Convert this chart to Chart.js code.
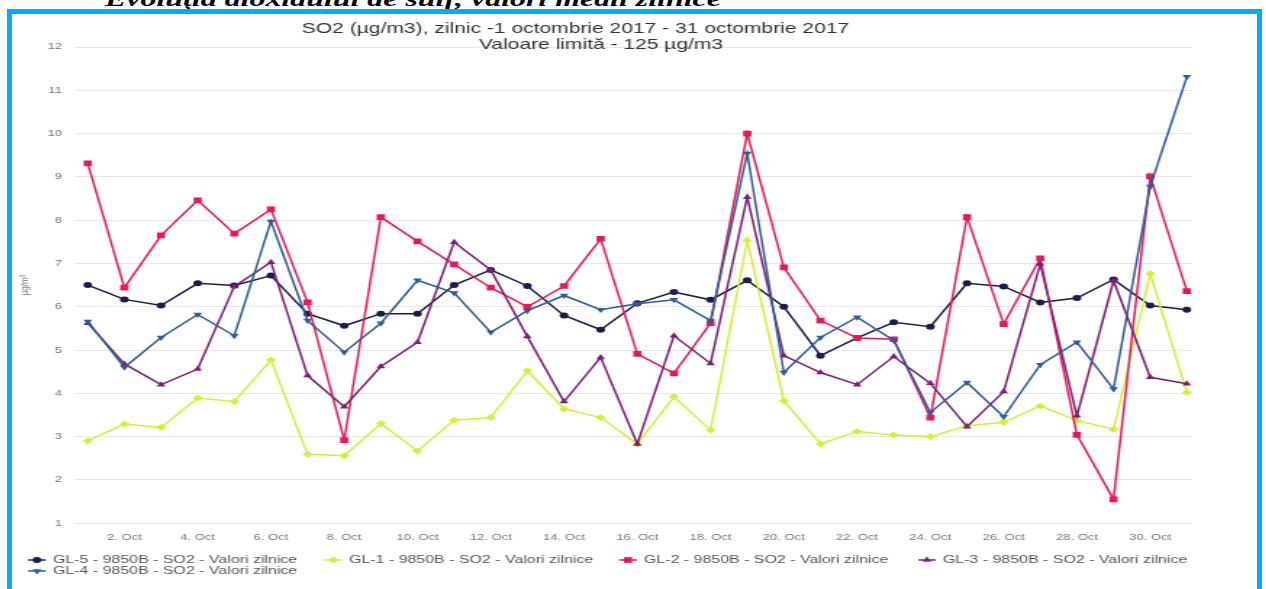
<!DOCTYPE html>
<html>
<head>
<meta charset="utf-8">
<script src="https://cdn.jsdelivr.net/npm/chart.js@4.4.1/dist/chart.umd.min.js"></script>
<style>
  html, body { margin: 0; padding: 0; background: #fff; }
  body { width: 1266px; height: 589px; overflow: hidden; position: relative; }
  #heading { position: absolute; left: 105px; top: -14px; line-height: 22px; font: bold italic 22px "Liberation Serif"; white-space: nowrap; transform: scaleX(1.45); transform-origin: 0 0; color: #000; }
  #frame { position: absolute; left: 7px; top: 9px; width: 1255px; height: 600px; border: 5px solid #00aeef; box-sizing: border-box; }
  #wrap { position: absolute; left: 12px; top: 14px; width: 818px; height: 575px; transform: scaleX(1.45); transform-origin: 0 0; }
</style>
</head>
<body>
<div id="heading">Evoluţia dioxidului de sulf, valori medii zilnice</div>
<div id="frame"></div>
<div id="wrap"><canvas id="so2Chart"></canvas></div>
<script>
// zilele lunii (octombrie 2017)
const days = [1, 2, 3, 4, 5, 6, 7, 8, 9, 10, 11, 12, 13, 14, 15, 16, 17, 18, 19, 20, 21, 22, 23, 24, 25, 26, 27, 28, 29, 30, 31];
const tickLabels = ['2. Oct', '4. Oct', '6. Oct', '8. Oct', '10. Oct', '12. Oct', '14. Oct', '16. Oct', '18. Oct', '20. Oct', '22. Oct', '24. Oct', '26. Oct', '28. Oct', '30. Oct'];

const titleLines = ['SO2 (µg/m3), zilnic -1 octombrie 2017 - 31 octombrie 2017', 'Valoare limită - 125 µg/m3'];
const seriesNames = [
  'GL-5 - 9850B - SO2 - Valori zilnice',
  'GL-1 - 9850B - SO2 - Valori zilnice',
  'GL-2 - 9850B - SO2 - Valori zilnice',
  'GL-3 - 9850B - SO2 - Valori zilnice',
  'GL-4 - 9850B - SO2 - Valori zilnice'
];

// valori zilnice SO2 (µg/m3)
const gl5 = [6.5, 6.17, 6.03, 6.54, 6.49, 6.72, 5.84, 5.56, 5.84, 5.84, 6.5, 6.85, 6.48, 5.8, 5.47, 6.08, 6.34, 6.16, 6.61, 6.0, 4.87, 5.28, 5.64, 5.54, 6.54, 6.47, 6.1, 6.2, 6.63, 6.03, 5.93];
const gl1 = [2.9, 3.29, 3.21, 3.89, 3.81, 4.77, 2.59, 2.56, 3.3, 2.67, 3.38, 3.44, 4.52, 3.64, 3.44, 2.83, 3.92, 3.15, 7.53, 3.83, 2.83, 3.12, 3.04, 3.0, 3.25, 3.33, 3.71, 3.37, 3.17, 6.76, 4.02];
const gl2 = [9.31, 6.44, 7.65, 8.46, 7.69, 8.25, 6.1, 2.92, 8.07, 7.51, 6.98, 6.44, 6.0, 6.48, 7.57, 4.91, 4.46, 5.62, 10.0, 6.91, 5.68, 5.28, 5.25, 3.44, 8.07, 5.6, 7.12, 3.04, 1.55, 9.01, 6.36];
const gl3 = [5.62, 4.68, 4.2, 4.56, 6.47, 7.03, 4.41, 3.69, 4.62, 5.18, 7.49, 6.85, 5.31, 3.81, 4.83, 2.83, 5.33, 4.69, 8.53, 4.87, 4.48, 4.2, 4.85, 4.23, 3.23, 4.04, 6.99, 3.48, 6.6, 4.37, 4.22];
const gl4 = [5.66, 4.6, 5.29, 5.82, 5.33, 7.97, 5.68, 4.95, 5.62, 6.61, 6.32, 5.41, 5.91, 6.26, 5.93, 6.07, 6.16, 5.68, 9.54, 4.48, 5.29, 5.76, 5.22, 3.56, 4.25, 3.46, 4.66, 5.18, 4.1, 8.78, 11.31];

const seriesData = [gl5, gl1, gl2, gl3, gl4];
const seriesColors = ['#1c1c4a', '#d4ee3a', '#e5195a', '#7a1f74', '#2f5b98'];
const seriesStyles = ['circle', 'rectRot', 'rect', 'triangle', 'triangle'];
const seriesRotation = [0, 0, 0, 0, 180];
const seriesRadius = [3, 3.5, 4, 3.5, 3.5];

const fontFamily = '"Liberation Sans", Arial, sans-serif';

var datasets = seriesData.map(function(values, i) {
  return {
    label: seriesNames[i],
    data: values,
    borderColor: seriesColors[i],
    backgroundColor: seriesColors[i],
    pointBackgroundColor: seriesColors[i],
    pointBorderWidth: 0,
    pointStyle: seriesStyles[i],
    pointRotation: seriesRotation[i],
    pointRadius: seriesRadius[i],
    borderWidth: 1.5,
    tension: 0,
    fill: false,
    order: seriesData.length - 1 - i
  };
});

// titlu si legenda desenate pe canvas
var decorPlugin = {
  id: 'decor',
  afterDraw: function(chart) {
    var c = chart.ctx;
    c.save();
    c.fillStyle = '#333';
    c.textAlign = 'center';
    c.textBaseline = 'middle';
    c.font = '14.5px ' + fontFamily;
    c.fillText(titleLines[0], 388.6, 14.5);
    c.fillText(titleLines[1], 406.2, 31);

    var colX = [17.2, 221.4, 424.8, 631];
    c.font = '11px ' + fontFamily;
    c.textAlign = 'left';
    chart.data.datasets.forEach(function(ds, i) {
      var x = i < 4 ? colX[i] : colX[0];
      var y = i < 4 ? 546 : 557;
      c.strokeStyle = ds.borderColor;
      c.fillStyle = ds.borderColor;
      c.lineWidth = 1.5;
      c.beginPath();
      c.moveTo(x - 6, y);
      c.lineTo(x + 6, y);
      c.stroke();
      Chart.helpers.drawPoint(c, { pointStyle: ds.pointStyle, rotation: ds.pointRotation, radius: ds.pointRadius, borderWidth: 0 }, x, y);
      c.fillStyle = '#555';
      c.fillText(ds.label, x + 11, y);
    });
    c.restore();
  }
};

var ctx = document.getElementById('so2Chart').getContext('2d');
var so2Chart = new Chart(ctx, {
  type: 'line',
  data: {
    labels: days,
    datasets: datasets
  },
  options: {
    responsive: true,
    maintainAspectRatio: false,
    animation: false,
    layout: { padding: { top: 33, bottom: 45, left: 0, right: 0 } },
    plugins: {
      legend: { display: false },
      title: { display: false },
      tooltip: { enabled: false }
    },
    scales: {
      x: {
        type: 'linear',
        min: 0.65,
        max: 31.15,
        grid: { display: false },
        border: { display: false },
        afterBuildTicks: function(axis) {
          axis.ticks = days.map(function(d) { return { value: d }; });
        },
        ticks: {
          autoSkip: false,
          maxRotation: 0,
          padding: 1,
          color: '#777',
          font: { size: 9, family: fontFamily },
          callback: function(value) {
            return value % 2 === 0 ? tickLabels[value / 2 - 1] : '';
          }
        }
      },
      y: {
        min: 1,
        max: 12,
        border: { display: false },
        grid: { color: '#e6e6e6', drawTicks: false },
        afterFit: function(axis) { axis.width = 43.4; },
        ticks: {
          stepSize: 1,
          padding: 9,
          color: '#777',
          font: { size: 9, family: fontFamily }
        },
        title: {
          display: true,
          text: 'µg/m³',
          color: '#777',
          font: { size: 8, family: fontFamily },
          padding: { top: 4, bottom: 0 }
        }
      }
    }
  },
  plugins: [decorPlugin]
});
</script>
</body>
</html>
